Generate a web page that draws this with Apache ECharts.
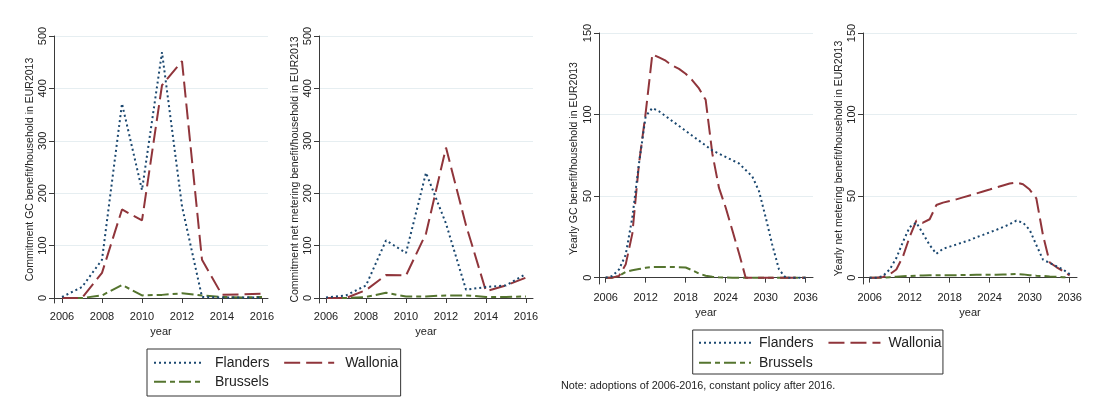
<!DOCTYPE html>
<html>
<head>
<meta charset="utf-8">
<script src="https://cdn.jsdelivr.net/npm/echarts@6/dist/echarts.min.js"></script>
<style>
  html, body { margin: 0; padding: 0; background: #fff; }
  #chart { width: 1096px; height: 402px; }
</style>
</head>
<body>
<div id="chart"></div>
<script>
// Years on the x axes
const commitYears = [2006, 2007, 2008, 2009, 2010, 2011, 2012, 2013, 2014, 2015, 2016];
const yearlyYears = [2006, 2007, 2008, 2009, 2010, 2011, 2012, 2013, 2014, 2015, 2016,
  2017, 2018, 2019, 2020, 2021, 2022, 2023, 2024, 2025, 2026,
  2027, 2028, 2029, 2030, 2031, 2032, 2033, 2034, 2035, 2036];

// Tick labels
const commitXTicks = [2006, 2008, 2010, 2012, 2014, 2016];
const yearlyXTicks = [2006, 2012, 2018, 2024, 2030, 2036];
const commitYTicks = [0, 100, 200, 300, 400, 500];
const yearlyYTicks = [0, 50, 100, 150];

// Commitment GC benefit per household (EUR2013), by adoption year
const gcCommitFlanders = [2, 21, 73, 371, 206, 469, 175, 2, 1, 1, 1];
const gcCommitWallonia = [0, 0, 48, 169, 148, 406, 452, 73, 6, 7, 8];
const gcCommitBrussels = [0, 0, 5, 25, 5, 6, 9, 5, 2, 1, 2];

// Commitment net metering benefit per household (EUR2013)
const nmCommitFlanders = [1, 5, 24, 110, 86, 239, 142, 16, 21, 24, 46];
const nmCommitWallonia = [0, 0, 15, 44, 43, 123, 287, 139, 13, 24, 39];
const nmCommitBrussels = [0, 0, 2, 10, 3, 3, 5, 5, 2, 2, 3];

// Yearly GC benefit per household (EUR2013)
const gcYearlyFlanders = [0, 1, 5, 14, 37, 70, 99, 104, 102, 99, 96,
  93, 90, 87, 84, 81, 78, 76, 74, 72, 70,
  66, 62, 53, 37, 20, 5, 0, 0, 0, 0];
const gcYearlyWallonia = [0, 0, 1, 8, 27, 70, 101, 137, 135, 133, 130,
  128, 125, 121, 116, 109, 76, 55, 43, 29, 15,
  0, 0, 0, 0, 0, 0, 0, 0, 0, 0];
const gcYearlyBrussels = [0, 0, 1, 3.5, 4.5, 5.3, 6, 6.5, 6.6, 6.6, 6.5,
  6.4, 6.2, 4.5, 2.5, 1.2, 0.5, 0.2, 0.1, 0, 0,
  0, 0, 0, 0, 0, 0, 0, 0, 0, 0];

// Yearly net metering benefit per household (EUR2013)
const nmYearlyFlanders = [0, 0, 1, 5, 12, 22, 31, 33.7, 27, 20, 14.6,
  17.7, 19, 20.3, 21.7, 23, 24.8, 26.2, 27.8, 29.3, 31,
  32.7, 35, 33.7, 29.3, 20, 11, 9, 7, 5, 2.2];
const nmYearlyWallonia = [0, 0, 0.4, 2, 5, 13, 25, 35, 33.7, 35.8, 44.5,
  46, 47, 48, 49.2, 50.4, 51.6, 52.8, 54, 55.3, 56.5,
  57.7, 58.3, 57.3, 54, 48.6, 26, 9.3, 6.5, 4, 1.4];
const nmYearlyBrussels = [0, 0, 0, 0.3, 0.6, 0.9, 1, 1.2, 1.3, 1.4, 1.4,
  1.5, 1.4, 1.5, 1.6, 1.6, 1.7, 1.7, 1.8, 1.8, 1.9,
  2, 2.2, 2, 1.5, 1.2, 1, 0.7, 0.5, 0.3, 0];

const FONT = 'Liberation Sans, Arial, Helvetica, sans-serif';
const AXIS_COLOR = '#3a3a3a';
const TEXT_COLOR = '#222';
const GRID_COLOR = '#e6eef1';

const regionStyle = {
  Flanders: { color: '#1a476f', type: [2, 3], width: 2 },
  Wallonia: { color: '#90353b', type: [16, 6], width: 2 },
  Brussels: { color: '#55752f', type: [12, 4, 5, 4], width: 2 }
};

// Panel frames: grid box in pixels plus axis ranges
const panels = [
  { left: 54, top: 36, width: 214, height: 267, xMin: 2005.6, xMax: 2016.3, yMin: -9.5, yMax: 500,
    xTicks: commitXTicks, yTicks: commitYTicks, years: commitYears,
    name: 'Commitment GC benefit/household in EUR2013', nameGap: 17,
    data: [gcCommitFlanders, gcCommitWallonia, gcCommitBrussels] },
  { left: 319, top: 36, width: 214, height: 267, xMin: 2005.65, xMax: 2016.35, yMin: -9.5, yMax: 500,
    xTicks: commitXTicks, yTicks: commitYTicks, years: commitYears,
    name: 'Commitment net metering benefit/household in EUR2013', nameGap: 18,
    data: [nmCommitFlanders, nmCommitWallonia, nmCommitBrussels] },
  { left: 599, top: 33, width: 214, height: 251, xMin: 2005, xMax: 2037.1, yMin: -3.9, yMax: 150,
    xTicks: yearlyXTicks, yTicks: yearlyYTicks, years: yearlyYears,
    name: 'Yearly GC benefit/household in EUR2013', nameGap: 19,
    data: [gcYearlyFlanders, gcYearlyWallonia, gcYearlyBrussels] },
  { left: 863, top: 33, width: 214, height: 251, xMin: 2005, xMax: 2037.1, yMin: -3.9, yMax: 150,
    xTicks: yearlyXTicks, yTicks: yearlyYTicks, years: yearlyYears,
    name: 'Yearly net metering benefit/household in EUR2013', nameGap: 18,
    data: [nmYearlyFlanders, nmYearlyWallonia, nmYearlyBrussels] }
];

const regions = ['Flanders', 'Wallonia', 'Brussels'];

const grid = [], xAxis = [], yAxis = [], series = [];
panels.forEach((p, i) => {
  grid.push({ left: p.left, top: p.top, width: p.width, height: p.height, containLabel: false });
  xAxis.push({
    type: 'value', gridIndex: i, min: p.xMin, max: p.xMax,
    name: 'year', nameLocation: 'middle', nameGap: 18,
    nameTextStyle: { fontFamily: FONT, fontSize: 11, color: TEXT_COLOR },
    axisLine: { show: true, lineStyle: { color: AXIS_COLOR, width: 1 } },
    axisTick: { show: true, length: 5, customValues: p.xTicks, lineStyle: { color: AXIS_COLOR } },
    axisLabel: { customValues: p.xTicks, margin: 8, fontFamily: FONT, fontSize: 11, color: TEXT_COLOR,
      formatter: v => String(v) },
    splitLine: { show: false }
  });
  yAxis.push({
    type: 'value', gridIndex: i, min: p.yMin, max: p.yMax,
    name: p.name, nameLocation: 'middle', nameGap: p.nameGap,
    nameTextStyle: { fontFamily: FONT, fontSize: 10.5, color: TEXT_COLOR },
    axisLine: { show: true, lineStyle: { color: AXIS_COLOR, width: 1 } },
    axisTick: { show: true, length: 5, customValues: p.yTicks, lineStyle: { color: AXIS_COLOR } },
    axisLabel: { customValues: p.yTicks, rotate: 90, margin: 6, fontFamily: FONT, fontSize: 11, color: TEXT_COLOR },
    splitLine: { show: true, lineStyle: { color: GRID_COLOR, width: 1 } }
  });
  regions.forEach((r, k) => {
    series.push({
      name: r, type: 'line', xAxisIndex: i, yAxisIndex: i,
      data: p.years.map((y, j) => [y, p.data[k][j]]),
      showSymbol: false, symbol: 'none', animation: false,
      itemStyle: { color: regionStyle[r].color },
      lineStyle: regionStyle[r], z: 3 - k
    });
  });
});

const legendText = { fontFamily: FONT, fontSize: 14, color: TEXT_COLOR, width: 60, padding: [0, 0, 0, 6] };
const legendRightText = Object.assign({}, legendText, { padding: [0, 0, 0, 3] });
// Legend keys show only the line pattern
const legendItem = { opacity: 0 };

const option = {
  backgroundColor: '#fff',
  animation: false,
  title: {
    text: 'Note: adoptions of 2006-2016, constant policy after 2016.',
    left: 561, top: 381, padding: 0,
    textStyle: { fontFamily: FONT, fontSize: 10.8, fontWeight: 'normal', color: TEXT_COLOR }
  },
  grid, xAxis, yAxis, series,
  legend: [
    { data: ['Flanders', 'Wallonia'], left: 147, top: 349, orient: 'horizontal',
      itemWidth: 50, itemHeight: 14, itemGap: 13.7, padding: [6.7, 2.3, 26.3, 6],
      borderColor: '#333', borderWidth: 1, textStyle: legendText, itemStyle: legendItem, selectedMode: false },
    { data: ['Brussels'], left: 153, top: 374.7, orient: 'horizontal',
      itemWidth: 50, itemHeight: 14, padding: 0, textStyle: legendText, itemStyle: legendItem, selectedMode: false },
    { data: ['Flanders', 'Wallonia'], left: 692.7, top: 330, orient: 'horizontal',
      itemWidth: 52, itemHeight: 14, itemGap: 14, padding: [5.7, 1.3, 24.3, 5.3],
      borderColor: '#333', borderWidth: 1, textStyle: legendRightText, itemStyle: legendItem, selectedMode: false },
    { data: ['Brussels'], left: 698, top: 355.7, orient: 'horizontal',
      itemWidth: 52, itemHeight: 14, padding: 0, textStyle: legendRightText, itemStyle: legendItem, selectedMode: false }
  ]
};

const chart = echarts.init(document.getElementById('chart'), null, { renderer: 'canvas' });
chart.setOption(option);
</script>
</body>
</html>
